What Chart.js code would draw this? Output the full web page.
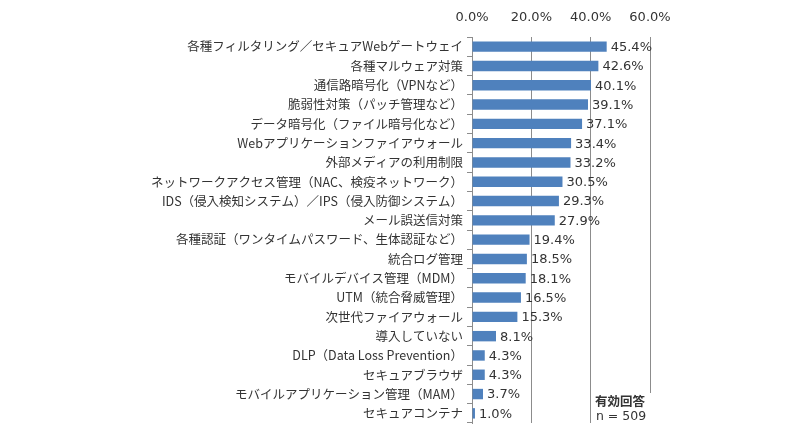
<!DOCTYPE html>
<html>
<head>
<meta charset="utf-8">
<script src="https://cdn.jsdelivr.net/npm/chart.js@4.4.0/dist/chart.umd.min.js"></script>
<style>
html,body{margin:0;padding:0;background:#fff;}
#wrap{width:800px;height:425px;position:relative;}
</style>
</head>
<body>
<div id="wrap"><canvas id="c" width="800" height="425"></canvas></div>
<script>
const categories = [
  "各種フィルタリング／セキュアWebゲートウェイ",
  "各種マルウェア対策",
  "通信路暗号化（VPNなど）",
  "脆弱性対策（パッチ管理など）",
  "データ暗号化（ファイル暗号化など）",
  "Webアプリケーションファイアウォール",
  "外部メディアの利用制限",
  "ネットワークアクセス管理（NAC、検疫ネットワーク）",
  "IDS（侵入検知システム）／IPS（侵入防御システム）",
  "メール誤送信対策",
  "各種認証（ワンタイムパスワード、生体認証など）",
  "統合ログ管理",
  "モバイルデバイス管理（MDM）",
  "UTM（統合脅威管理）",
  "次世代ファイアウォール",
  "導入していない",
  "DLP（Data Loss Prevention）",
  "セキュアブラウザ",
  "モバイルアプリケーション管理（MAM）",
  "セキュアコンテナ"
];
const values = [45.4, 42.6, 40.1, 39.1, 37.1, 33.4, 33.2, 30.5, 29.3, 27.9, 19.4, 18.5, 18.1, 16.5, 15.3, 8.1, 4.3, 4.3, 3.7, 1.0];
const tickValues = [0, 20, 40, 60];
const noteLines = ["有効回答", "n = 509"];

const latinFont = "'DejaVu Sans', Verdana, sans-serif";
const jpFont = "'Noto Sans CJK JP', 'Noto Sans', sans-serif";

const valueLabels = {
  id: 'valueLabels',
  afterDatasetsDraw(chart) {
    const ctx = chart.ctx;
    const meta = chart.getDatasetMeta(0);
    ctx.save();
    ctx.font = "13px " + latinFont;
    ctx.fillStyle = "#333333";
    ctx.textAlign = "left";
    ctx.textBaseline = "middle";
    meta.data.forEach((bar, i) => {
      ctx.fillText(values[i].toFixed(1) + "%", bar.x + 4, bar.y + 1);
    });
    ctx.restore();
  },
  afterDraw(chart) {
    const ctx = chart.ctx;
    ctx.save();
    ctx.fillStyle = "#ffffff";
    ctx.fillRect(591, 393, 64, 32);
    ctx.fillStyle = "#333333";
    ctx.textAlign = "center";
    ctx.textBaseline = "middle";
    ctx.font = "bold 12.5px " + jpFont;
    ctx.fillText(noteLines[0], 620, 401);
    ctx.font = "12.5px " + latinFont;
    ctx.fillText(noteLines[1], 621, 417);
    ctx.restore();
  }
};

new Chart(document.getElementById('c'), {
  type: 'bar',
  data: {
    labels: categories,
    datasets: [{
      data: values,
      backgroundColor: '#4F81BD',
      borderWidth: 0,
      barPercentage: 0.54,
      categoryPercentage: 1.0
    }]
  },
  options: {
    indexAxis: 'y',
    responsive: false,
    animation: false,
    devicePixelRatio: 1,
    layout: { padding: { left: 0, right: 150, top: 0, bottom: 2 } },
    plugins: { legend: { display: false }, tooltip: { enabled: false } },
    scales: {
      x: {
        position: 'top',
        min: 0,
        max: 60,
        afterBuildTicks(scale) { scale.ticks = tickValues.map(v => ({ value: v })); },
        afterFit(scale) { scale.height = 37; scale.paddingLeft = 0; scale.paddingRight = 0; },
        border: { display: false },
        grid: { color: '#8c8c8c', lineWidth: 1, drawTicks: false },
        ticks: {
          padding: 12,
          color: '#333333',
          font: { family: latinFont, size: 13 },
          callback: v => Number(v).toFixed(1) + '%'
        }
      },
      y: {
        afterFit(scale) { scale.width = 472; scale.paddingTop = 0; scale.paddingBottom = 0; },
        border: { display: true, color: '#8c8c8c', width: 1 },
        grid: { drawOnChartArea: false, drawTicks: true, tickLength: 5, color: '#8c8c8c', offset: true },
        ticks: {
          padding: 4,
          color: '#333333',
          autoSkip: false,
          font: { family: jpFont, size: 12.5 }
        }
      }
    }
  },
  plugins: [valueLabels]
});
</script>
</body>
</html>
